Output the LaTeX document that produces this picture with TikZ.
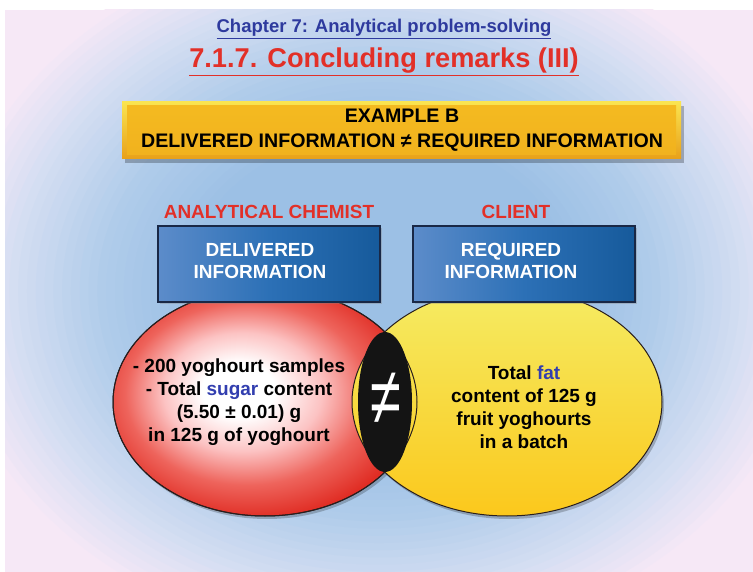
\documentclass[tikz,border=0pt]{standalone}
\usepackage{fontspec}
\usepackage{graphicx}
\setmainfont{Liberation Sans}
\usetikzlibrary{shadows}
\definecolor{bgA}{RGB}{156,192,229}
\definecolor{bgB}{RGB}{176,204,234}
\definecolor{bgC}{RGB}{212,222,242}
\definecolor{bgD}{RGB}{246,232,246}
\definecolor{titleblue}{RGB}{46,58,158}
\definecolor{titlered}{RGB}{226,48,40}
\definecolor{hlblue}{RGB}{50,62,175}
\definecolor{redM}{RGB}{224,45,36}
\definecolor{redL}{RGB}{238,100,92}
\definecolor{redP}{RGB}{252,195,195}
\definecolor{yelT}{RGB}{245,236,100}
\definecolor{yelM}{RGB}{246,226,75}
\definecolor{yelB}{RGB}{251,200,28}
\definecolor{banT}{RGB}{250,228,80}
\definecolor{banB}{RGB}{232,160,25}
\definecolor{banI}{RGB}{244,186,32}
\definecolor{banJ}{RGB}{241,178,30}
\definecolor{boxL}{RGB}{92,140,202}
\definecolor{boxM}{RGB}{44,112,182}
\definecolor{boxR}{RGB}{22,90,155}
\definecolor{boxE}{RGB}{25,40,70}
\definecolor{outl}{RGB}{40,30,30}
\definecolor{lens}{RGB}{20,20,20}
\pgfdeclareradialshading{redshade}{\pgfpoint{-5bp}{3bp}}{color(0bp)=(white); color(6bp)=(white); color(13bp)=(redP); color(20bp)=(redL); color(27bp)=(redM); color(50bp)=(redM)}
\tikzset{
  bodytext/.style={font=\bfseries\fontsize{19}{23}\selectfont, align=center, text=black, inner sep=0pt},
  infobox/.style={draw=boxE, line width=1.2pt, left color=boxL, right color=boxR, middle color=boxM,
    minimum width=222pt, minimum height=76pt, inner sep=0pt,
    drop shadow={shadow xshift=2pt, shadow yshift=-2pt, opacity=0.35}},
  boxtext/.style={font=\bfseries\fontsize{19}{22}\selectfont, align=center, text=white, inner sep=0pt},
  rolelabel/.style={font=\bfseries\fontsize{19}{22}\selectfont, text=titlered, inner sep=0pt},
  bannertext/.style={font=\bfseries\fontsize{19.6}{25}\selectfont, align=center, text=black, inner sep=0pt},
  venn/.style={draw=outl, line width=1pt}
}
\begin{document}
\begin{tikzpicture}[x=1pt,y=-1pt]
\useasboundingbox (0,0) rectangle (753,572);
\fill[white] (0,0) rectangle (753,572);
\begin{scope}
\clip (5,10) rectangle (753,572);
\fill[bgD] (5,10) rectangle (753,572);
\foreach \s in {1.00,0.98,...,0.85} {
  \pgfmathsetmacro\pc{min(100,max(0,(\s-0.84)/0.16*100))}
  \fill[bgD!\pc!bgC] (379,291) ellipse ({440*\s} and {360*\s});
}
\foreach \s in {0.84,0.82,...,0.65} {
  \pgfmathsetmacro\pc{min(100,max(0,(\s-0.64)/0.2*100))}
  \fill[bgC!\pc!bgB] (379,291) ellipse ({440*\s} and {360*\s});
}
\foreach \s in {0.64,0.62,...,0.45} {
  \pgfmathsetmacro\pc{min(100,max(0,(\s-0.44)/0.2*100))}
  \fill[bgB!\pc!bgA] (379,291) ellipse ({440*\s} and {360*\s});
}
\fill[bgA] (379,291) ellipse (194 and 158);
\end{scope}
% titles
\node[font=\bfseries\fontsize{18.5}{22}\selectfont, text=titleblue, inner sep=0pt] (t1) at (384,29) {\underline{Chapter 7: Analytical problem-solving}};
\node[font=\bfseries\fontsize{27.2}{30}\selectfont, text=titlered, inner sep=0pt] (t2) at (384,62) {\underline{7.1.7. Concluding remarks (III)}};
% banner
\fill[black, opacity=0.25] (125,106) rectangle (684,163);
\shade[top color=banT, bottom color=banB] (122,102) rectangle (681,159);
\shade[top color=banI, bottom color=banJ] (127,106) rectangle (676,155);
\node[bannertext] (ban) at (402,130.5) {EXAMPLE B\\DELIVERED INFORMATION ≠ REQUIRED INFORMATION};
% role labels
\node[rolelabel] (lab1) at (269,212) {ANALYTICAL CHEMIST};
\node[rolelabel] (lab2) at (516,212) {CLIENT};
% ellipses
\fill[black, opacity=0.22] (267,405) ellipse (152pt and 114pt);
\fill[black, opacity=0.22] (509,405) ellipse (155pt and 114pt);
\shade[venn, shading=redshade] (265,402) ellipse (152pt and 114pt);
\shade[venn, top color=yelT, middle color=yelM, bottom color=yelB] (507,402) ellipse (155pt and 114pt);
\draw[outl, line width=1pt] (265,402) ellipse (152pt and 114pt);
\fill[lens] (385,402) ellipse (27pt and 70pt);
\node[font=\fontsize{56}{56}\selectfont, text=white, inner sep=0pt] (neq) at (386,399) {\scalebox{1}[1.45]{≠}};
% boxes
\node[infobox] (dbox) at (269,264) {};
\node[infobox] (rbox) at (524,264) {};
\node[boxtext] (dtext) at (260,261) {DELIVERED\\INFORMATION};
\node[boxtext] (rtext) at (511,261) {REQUIRED\\INFORMATION};
% body text
\node[bodytext] (ltext) at (239,402) {- 200 yoghourt samples\\- Total \textcolor{hlblue}{sugar} content\\(5.50 ± 0.01) g\\in 125 g of yoghourt};
\node[bodytext] (rtext2) at (524,407) {Total \textcolor{hlblue}{fat}\\content of 125 g\\fruit yoghourts\\in a batch};
\end{tikzpicture}
\end{document}
